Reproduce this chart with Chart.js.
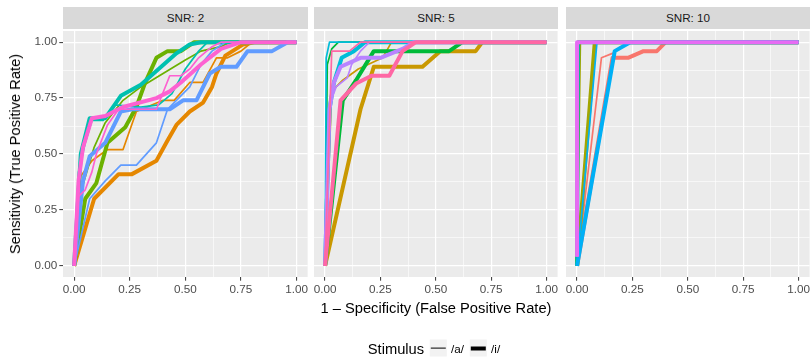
<!DOCTYPE html>
<html>
<head>
<meta charset="utf-8">
<script src="https://cdn.jsdelivr.net/npm/chart.js@4.4.1/dist/chart.umd.min.js"></script>
<style>
  body { margin: 0; background: #fff; width: 812px; height: 358px; position: relative; overflow: hidden;
         font-family: "Liberation Sans", Arial, sans-serif; }
  canvas { position: absolute; top: 0; }
  .strip { position: absolute; top: 7px; height: 22px; line-height: 22px; background: #D9D9D9;
           color: #1A1A1A; font-size: 11.7px; text-align: center; }
  .title { position: absolute; color: #000; font-size: 14.7px; white-space: nowrap; }
  #ytitle { left: 15px; top: 154px; transform: translate(-50%, -50%) rotate(-90deg); }
  #xtitle { left: 436px; top: 308px; transform: translate(-50%, -50%); }
  #legend { position: absolute; left: 437px; top: 348px; transform: translate(-50%, -50%);
            display: flex; align-items: center; white-space: nowrap; }
  #legend .lt { font-size: 14.7px; margin-right: 6px; }
  #legend .key { width: 17px; height: 17px; background: #F2F2F2; position: relative; margin-right: 4px; }
  #legend .key i { position: absolute; left: 1px; right: 1px; top: 50%; background: #000; transform: translateY(-50%); }
  #legend .lab { font-size: 11.7px; margin-right: 6px; }
</style>
</head>
<body>
<div class="strip" style="left:63px;width:245px">SNR: 2</div>
<div class="strip" style="left:314px;width:244px">SNR: 5</div>
<div class="strip" style="left:566px;width:244px">SNR: 10</div>

<canvas id="p1" width="310" height="300" style="left:0px"></canvas>
<canvas id="p2" width="256" height="300" style="left:304px"></canvas>
<canvas id="p3" width="256" height="300" style="left:556px"></canvas>

<div class="title" id="ytitle">Sensitivity (True Positive Rate)</div>
<div class="title" id="xtitle">1 – Specificity (False Positive Rate)</div>
<div id="legend">
  <span class="lt">Stimulus</span>
  <span class="key"><i style="height:1.8px"></i></span><span class="lab">/a/</span>
  <span class="key"><i style="height:4px"></i></span><span class="lab">/i/</span>
</div>

<script>
// hue palette, one colour per listener (15)
const palette = ["#F8766D", "#E58700", "#C99800", "#A3A500", "#6BB100", "#00BA38", "#00BF7D", "#00C0AF",
                 "#00BCD8", "#00B0F6", "#619CFF", "#B983FF", "#E76BF3", "#FD61D1", "#FF67A4"];
const panels = ["SNR: 2", "SNR: 5", "SNR: 10"];
const stimuli = ["/a/", "/i/"];
const gridValues = [0, 0.125, 0.25, 0.375, 0.5, 0.625, 0.75, 0.875, 1];
const tickValues = [0, 0.25, 0.5, 0.75, 1];
const tickLabels = ["0.00", "0.25", "0.50", "0.75", "1.00"];

// ROC points [fpr, tpr]  -- SNR 2
const snr2_s2_a = [[0,0],[0.03,0.4],[0.08,0.47],[0.15,0.52],[0.22,0.52],[0.28,0.69],[0.4,0.74],[0.45,0.74],[0.52,0.82],[0.58,0.82],[0.64,0.93],[0.69,0.93],[0.75,0.96],[0.8,1],[1,1]];
const snr2_s2_i = [[0,0],[0.09,0.3],[0.2,0.41],[0.26,0.41],[0.37,0.47],[0.42,0.56],[0.46,0.63],[0.52,0.69],[0.58,0.73],[0.62,0.8],[0.64,0.86],[0.68,0.94],[0.76,0.99],[0.81,1],[1,1]];
const snr2_s5_a = [[0,0],[0.03,0.33],[0.09,0.53],[0.14,0.64],[0.22,0.74],[0.3,0.8],[0.4,0.86],[0.5,0.92],[0.57,0.96],[0.66,0.98],[0.7,1],[1,1]];
const snr2_s5_i = [[0,0],[0.05,0.3],[0.1,0.37],[0.15,0.55],[0.23,0.62],[0.28,0.71],[0.32,0.82],[0.37,0.93],[0.42,0.96],[0.48,0.96],[0.54,1],[1,1]];
const snr2_s8_a = [[0,0],[0.02,0.42],[0.05,0.55],[0.08,0.65],[0.13,0.65],[0.18,0.72],[0.3,0.71],[0.38,0.72],[0.44,0.77],[0.5,0.88],[0.56,0.96],[0.6,1],[1,1]];
const snr2_s8_i = [[0,0],[0.03,0.5],[0.07,0.66],[0.14,0.66],[0.21,0.76],[0.3,0.81],[0.38,0.88],[0.46,0.95],[0.52,0.99],[0.57,1],[1,1]];
const snr2_s11_a = [[0,0],[0.07,0.3],[0.14,0.38],[0.21,0.45],[0.28,0.45],[0.37,0.55],[0.42,0.7],[0.47,0.75],[0.52,0.8],[0.57,0.9],[0.62,0.96],[0.68,1],[1,1]];
const snr2_s11_i = [[0,0],[0.04,0.38],[0.07,0.49],[0.14,0.55],[0.21,0.69],[0.26,0.7],[0.43,0.7],[0.49,0.74],[0.55,0.74],[0.61,0.86],[0.66,0.89],[0.73,0.89],[0.78,0.96],[0.89,0.96],[0.96,1],[1,1]];
const snr2_s14_a = [[0,0],[0.02,0.31],[0.05,0.34],[0.08,0.42],[0.1,0.5],[0.15,0.63],[0.2,0.7],[0.37,0.7],[0.43,0.85],[0.48,0.85],[0.52,0.88],[0.56,0.93],[0.62,0.98],[0.66,1],[1,1]];
const snr2_s14_i = [[0,0],[0.02,0.38],[0.04,0.53],[0.08,0.66],[0.14,0.67],[0.22,0.71],[0.37,0.75],[0.43,0.78],[0.48,0.82],[0.57,0.9],[0.66,0.97],[0.75,1],[1,1]];

// SNR 5
const snr5_s3_a = [[0,0],[0.03,0.78],[0.08,0.83],[0.15,0.88],[0.26,0.93],[0.3,1],[1,1]];
const snr5_s3_i = [[0,0],[0.16,0.7],[0.22,0.89],[0.44,0.89],[0.52,0.96],[0.68,0.96],[0.71,1],[1,1]];
const snr5_s6_a = [[0,0],[0.01,0.9],[0.03,0.97],[0.06,1],[1,1]];
const snr5_s6_i = [[0,0],[0.08,0.74],[0.14,0.83],[0.22,0.96],[0.56,0.96],[0.62,1],[1,1]];
const snr5_s9_a = [[0,0],[0.005,0.93],[0.02,1],[1,1]];
const snr5_s9_i = [[0,0],[0.02,0.7],[0.04,0.82],[0.075,0.93],[0.13,0.96],[0.18,1],[1,1]];
const snr5_s12_a = [[0,0],[0.02,0.72],[0.05,0.8],[0.1,0.84],[0.12,0.9],[0.16,0.96],[0.2,1],[1,1]];
const snr5_s12_i = [[0,0],[0.02,0.7],[0.04,0.82],[0.07,0.89],[0.16,0.93],[0.25,0.93],[0.35,0.97],[0.4,1],[1,1]];
const snr5_s15_a = [[0,0],[0.03,0.96],[0.11,0.96],[0.16,1],[1,1]];
const snr5_s15_i = [[0,0],[0.07,0.74],[0.14,0.815],[0.21,0.85],[0.29,0.85],[0.35,0.96],[0.41,1],[1,1]];

// SNR 10
const snr10_s1_a = [[0,0],[0.11,0.93],[0.16,0.95],[0.24,1],[1,1]];
const snr10_s1_i = [[0,0],[0.16,0.93],[0.23,0.93],[0.3,0.96],[0.36,0.96],[0.4,1],[1,1]];
const snr10_s4_a = [[0,0],[0.015,1],[1,1]];
const snr10_s4_i = [[0,0],[0.08,1],[1,1]];
const snr10_s7_a = [[0,0],[0,1],[1,1]];
const snr10_s7_i = [[0,0],[0,0.05],[0.005,1],[1,1]];
const snr10_s10_a = [[0,0],[0.09,1],[1,1]];
const snr10_s10_i = [[0,0],[0.17,0.96],[0.24,1],[1,1]];
const snr10_s13_a = [[0,0.04],[0,1],[1,1]];
const snr10_s13_i = [[0,0.04],[0,1],[1,1]];

const lineWidths = [1.7, 4];

// [palette index, /a/ points, /i/ points]
const panelSeries = [
  [[1, snr2_s2_a, snr2_s2_i], [4, snr2_s5_a, snr2_s5_i], [7, snr2_s8_a, snr2_s8_i],
   [10, snr2_s11_a, snr2_s11_i], [13, snr2_s14_a, snr2_s14_i]],
  [[2, snr5_s3_a, snr5_s3_i], [5, snr5_s6_a, snr5_s6_i], [8, snr5_s9_a, snr5_s9_i],
   [11, snr5_s12_a, snr5_s12_i], [14, snr5_s15_a, snr5_s15_i]],
  [[0, snr10_s1_a, snr10_s1_i], [3, snr10_s4_a, snr10_s4_i], [6, snr10_s7_a, snr10_s7_i],
   [9, snr10_s10_a, snr10_s10_i], [12, snr10_s13_a, snr10_s13_i]]
];

const isMajor = (v) => Math.abs(v * 4 - Math.round(v * 4)) < 1e-6;

const panelBg = {
  id: "panelBg",
  beforeDraw(chart) {
    const a = chart.chartArea, c = chart.ctx;
    c.save();
    c.fillStyle = "#EBEBEB";
    c.fillRect(a.left, a.top, a.right - a.left, a.bottom - a.top);
    c.restore();
  }
};

function axis(showLabels, size, horizontal) {
  return {
    type: "linear",
    min: -0.05,
    max: 1.05,
    afterBuildTicks: (s) => { s.ticks = gridValues.map(v => ({ value: v })); },
    afterFit: (s) => { if (horizontal) s.height = size; else s.width = size; },
    border: { display: false },
    grid: {
      color: "#FFFFFF",
      lineWidth: (ctx) => isMajor(ctx.tick.value) ? 1.2 : 0.6,
      drawTicks: showLabels,
      tickLength: 3.7,
      tickWidth: 1,
      tickColor: (ctx) => isMajor(ctx.tick.value) ? "#333333" : "rgba(0,0,0,0)"
    },
    ticks: {
      display: showLabels,
      autoSkip: false,
      maxRotation: 0,
      minRotation: 0,
      padding: 2,
      color: "#4D4D4D",
      font: { family: "Liberation Sans", size: 11.7 },
      callback: (v) => isMajor(v) ? tickLabels[tickValues.indexOf(Math.round(v * 4) / 4)] : ""
    }
  };
}

function makePanel(id, series, first) {
  const ds = [];
  series.forEach(([ci, a, i]) => {
    [a, i].forEach((pts, k) => {
      ds.push({
        label: stimuli[k],
        data: pts.map(p => ({ x: p[0], y: p[1] })),
        showLine: true,
        borderColor: palette[ci],
        borderWidth: lineWidths[k],
        borderJoinStyle: "round",
        pointRadius: 0,
        tension: 0,
        fill: false
      });
    });
  });
  ds.reverse(); // chart.js paints the first dataset last

  new Chart(document.getElementById(id), {
    type: "scatter",
    data: { datasets: ds },
    plugins: [panelBg],
    options: {
      responsive: false,
      animation: false,
      devicePixelRatio: 1,
      layout: { padding: { top: 31, right: 2, left: 0, bottom: 0 } },
      plugins: { legend: { display: false }, tooltip: { enabled: false } },
      scales: {
        x: axis(true, 23, true),
        y: axis(first, first ? 63 : 10, false)
      }
    }
  });
}

makePanel("p1", panelSeries[0], true);
makePanel("p2", panelSeries[1], false);
makePanel("p3", panelSeries[2], false);
</script>
</body>
</html>
